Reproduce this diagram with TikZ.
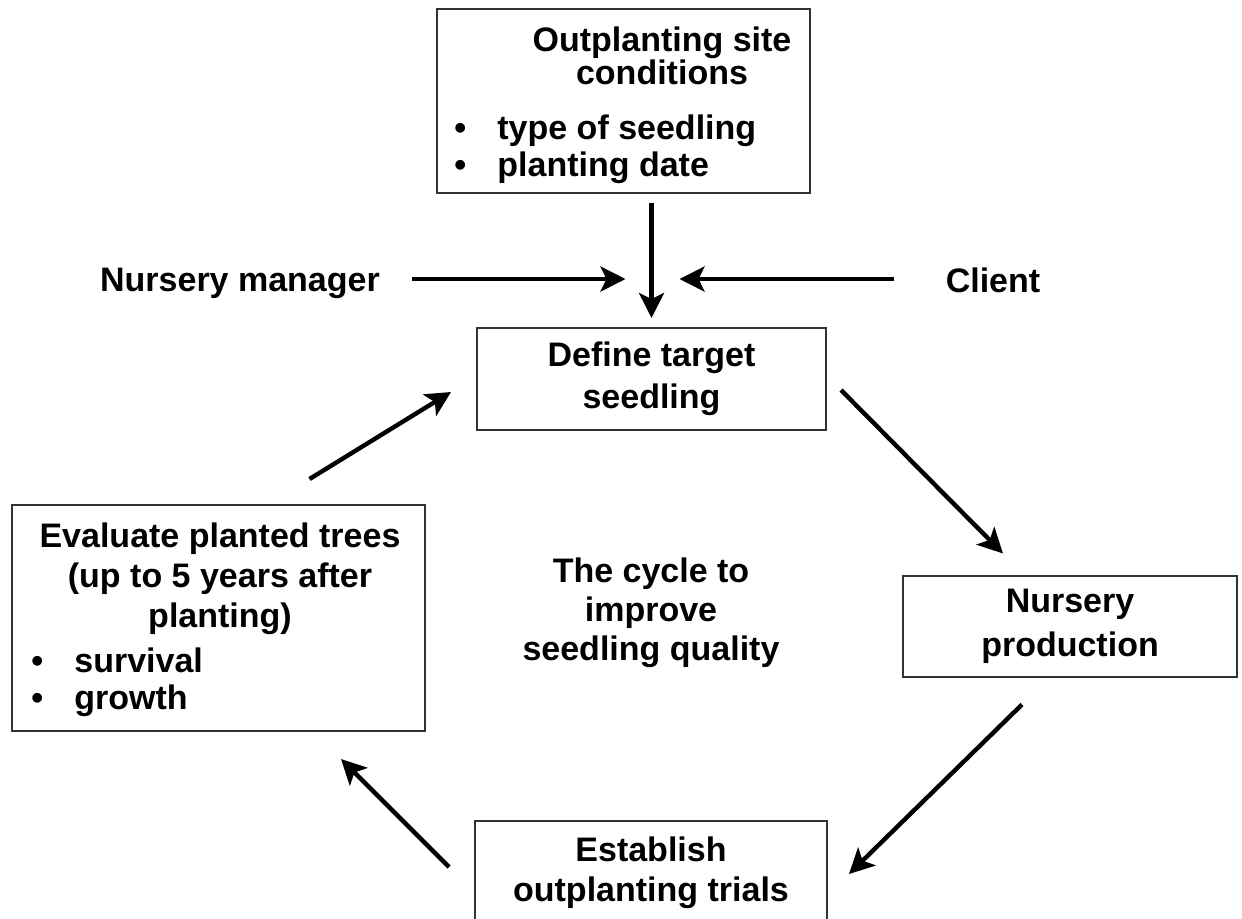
\documentclass[tikz,border=0pt]{standalone}
\usepackage{fontspec}
\setmainfont{Liberation Sans}
\usetikzlibrary{arrows.meta,positioning}
\newcommand{\bulletpt}{\makebox[21.5pt][l]{\textbullet}}

\begin{document}
\begin{tikzpicture}[
      x=0.5pt, y=-0.5pt,
      font=\bfseries\fontsize{17}{20}\selectfont,
      box/.style={draw=black!80, line width=1pt, inner sep=0pt, align=center},
      txt/.style={inner sep=0pt, align=center},
      list/.style={inner sep=0pt, align=left, anchor=west,
                   font=\bfseries\fontsize{17}{18.5}\selectfont},
      arrow/.style={-{Stealth[length=12.5pt, width=12.5pt, inset=3pt]}, line width=2.2pt}
  ]
  \useasboundingbox (0,0) rectangle (1242,918);

  % site conditions
  \node[box, minimum width=186.5pt, minimum height=92pt] (site) at (623.5,101) {};
  \node[txt, font=\bfseries\fontsize{17}{16.5}\selectfont] (sitehead) at (662,56) {Outplanting site\\conditions};
  \node[list] (sitelist) at (454,149.5) {\bulletpt type of seedling\\ \bulletpt planting date};

  % the cycle
  \node[box, minimum width=174.5pt, minimum height=51pt,
        font=\bfseries\fontsize{17}{21}\selectfont] (define) at (651.5,379) {Define target\\seedling};
  \node[box, minimum width=167pt, minimum height=50.5pt,
        font=\bfseries\fontsize{17}{22}\selectfont] (nursery) at (1070,626) {Nursery\\production};
  \node[box, minimum width=176pt, minimum height=52pt] (trials) at (651,873) {Establish\\outplanting trials};
  \node[box, minimum width=206.5pt, minimum height=113pt] (evaluate) at (218.5,618) {};
  \node[txt] (evalhead) at (220,579) {Evaluate planted trees\\(up to 5 years after\\planting)};
  \node[list] (evallist) at (31,682.5) {\bulletpt survival\\ \bulletpt growth};
  \node[txt, font=\bfseries\fontsize{17}{19.5}\selectfont] (cycle) at (651,613) {The cycle to\\improve\\seedling quality};

  % who defines the target
  \node[txt] (mgr) at (240,283) {Nursery manager};
  \node[txt] (client) at (993,280) {Client};
  \coordinate (meet) at (651.5,279);

  \draw[arrow, shorten <=4.5pt, shorten >=4.5pt] (site.south -| define.north) -- (define.north);
  \draw[arrow, shorten <=16pt, shorten >=13pt] (mgr.east |- meet) -- (meet);
  \draw[arrow, shorten <=25.5pt, shorten >=14pt] (client.west |- meet) -- (meet);

  \draw[arrow] ([shift={(14,11)}]define.east) -- ([shift={(-67,-21)}]nursery.north);
  \draw[arrow] ([shift={(-48,27)}]nursery.south) -- ([shift={(21,54)}]trials.north east);
  \draw[arrow] ([shift={(-25,47)}]trials.north west) -- ([shift={(-85,27)}]evaluate.south east);
  \draw[arrow] ([shift={(91,-25)}]evaluate.north) -- ([shift={(-25,13)}]define.west);
\end{tikzpicture}
\end{document}
